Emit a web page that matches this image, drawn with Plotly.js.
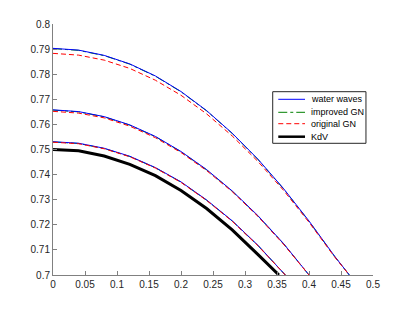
<!DOCTYPE html>
<html><head><meta charset="utf-8">
<script src="https://cdn.plot.ly/plotly-3.0.1.min.js"></script>
<style>html,body{margin:0;padding:0;background:#fff;}#chart{width:412px;height:309px;}</style>
</head><body><div id="chart"></div>
<script>
// Family 1 (top)
const x1 = [0, 0.04, 0.08, 0.12, 0.16, 0.2, 0.24, 0.28, 0.32, 0.36, 0.40, 0.44, 0.463];
const ww1 = [0.7903, 0.7896, 0.7875, 0.7841, 0.7793, 0.7731, 0.7655, 0.7565, 0.7462, 0.7345, 0.7215, 0.7075, 0.7000];
const ign1 = [0.7902, 0.7895, 0.7874, 0.7840, 0.7792, 0.7730, 0.7654, 0.7564, 0.7461, 0.7344, 0.7214, 0.7074, 0.7000];
const ogn1 = [0.7883, 0.7876, 0.7856, 0.7823, 0.7776, 0.7716, 0.7642, 0.7554, 0.7453, 0.7338, 0.7210, 0.7072, 0.7000];
// Family 2 (middle)
const x2 = [0, 0.04, 0.08, 0.12, 0.16, 0.2, 0.24, 0.28, 0.32, 0.36, 0.40];
const ww2 = [0.7658, 0.7651, 0.7631, 0.7598, 0.7552, 0.7492, 0.7420, 0.7335, 0.7237, 0.7126, 0.7000];
const ign2 = [0.7657, 0.7650, 0.7630, 0.7597, 0.7551, 0.7491, 0.7419, 0.7334, 0.7236, 0.7125, 0.7000];
const ogn2 = [0.7652, 0.7645, 0.7626, 0.7593, 0.7547, 0.7488, 0.7416, 0.7332, 0.7234, 0.7123, 0.7000];
// Family 3 (lower)
const x3 = [0, 0.04, 0.08, 0.12, 0.16, 0.2, 0.24, 0.28, 0.32, 0.363];
const ww3 = [0.7531, 0.7525, 0.7505, 0.7473, 0.7428, 0.7371, 0.7299, 0.7216, 0.7119, 0.7000];
const ign3 = [0.7530, 0.7524, 0.7504, 0.7472, 0.7427, 0.7370, 0.7298, 0.7215, 0.7118, 0.7000];
const ogn3 = [0.7529, 0.7523, 0.7503, 0.7471, 0.7426, 0.7369, 0.7297, 0.7214, 0.7117, 0.7000];
// KdV
const xk = [0, 0.04, 0.08, 0.12, 0.16, 0.2, 0.24, 0.28, 0.32, 0.353];
const kdv = [0.7500, 0.7495, 0.7474, 0.7441, 0.7396, 0.7337, 0.7265, 0.7180, 0.7082, 0.7000];

const xTicks = [0, 0.05, 0.1, 0.15, 0.2, 0.25, 0.3, 0.35, 0.4, 0.45, 0.5];
const yTicks = [0.7, 0.71, 0.72, 0.73, 0.74, 0.75, 0.76, 0.77, 0.78, 0.79, 0.8];

const names = ['water waves', 'improved GN', 'original GN', 'KdV'];
const styleList = [
  {color: '#0000ff', width: 1, dash: 'solid'},
  {color: '#008000', width: 1, dash: 'dashdot'},
  {color: '#ff0000', width: 1, dash: '5px,3px'},
  {color: '#000000', width: 3, dash: 'solid'}
];
const traces = [];
function add(x, y, si) {
  traces.push({x: x, y: y, type: 'scatter', mode: 'lines', line: Object.assign({}, styleList[si]),
    name: names[si], showlegend: false, hoverinfo: 'skip'});
}
add(x1, ign1, 1); add(x2, ign2, 1); add(x3, ign3, 1);
add(x1, ww1, 0); add(x2, ww2, 0); add(x3, ww3, 0);
add(x1, ogn1, 2); add(x2, ogn2, 2); add(x3, ogn3, 2);
add(xk, kdv, 3);

// Custom compact legend (MATLAB-style), positions in paper coords
const shapes = [{type: 'rect', xref: 'paper', yref: 'paper', x0: 0.6866, x1: 0.978, y0: 0.5247, y1: 0.7303,
  line: {color: '#262626', width: 1}, fillcolor: '#ffffff', layer: 'above'}];
const annotations = [];
const rowY = [0.700, 0.6482, 0.6028, 0.551];
names.forEach(function (n, i) {
  const st = styleList[i];
  shapes.push({type: 'line', xref: 'paper', yref: 'paper', x0: 0.704, x1: 0.7875, y0: rowY[i], y1: rowY[i],
    line: {color: st.color, width: i === 3 ? 2.5 : 1, dash: st.dash}, layer: 'above'});
  annotations.push({xref: 'paper', yref: 'paper', x: 0.8, y: rowY[i], xanchor: 'left', yanchor: 'middle',
    text: n, showarrow: false, font: {family: 'Liberation Sans, Arial, sans-serif', size: 9, color: '#000'}});
});

const axisCommon = {
  showline: true, linecolor: '#808080', linewidth: 1, ticks: 'inside', ticklen: 4,
  tickcolor: '#808080', showgrid: false, zeroline: false, mirror: false,
  tickfont: {family: 'Liberation Sans, Arial, sans-serif', size: 10, color: '#262626'}
};
const layout = {
  width: 412, height: 309,
  margin: {l: 53, r: 39, t: 24, b: 34, pad: 0},
  paper_bgcolor: '#ffffff', plot_bgcolor: '#ffffff',
  showlegend: false,
  xaxis: Object.assign({}, axisCommon, {range: [0, 0.5], tickvals: xTicks, ticktext: xTicks.map(String)}),
  yaxis: Object.assign({}, axisCommon, {range: [0.7, 0.8], tickvals: yTicks, ticktext: yTicks.map(String)}),
  shapes: shapes,
  annotations: annotations
};
Plotly.newPlot('chart', traces, layout, {staticPlot: true, displayModeBar: false});
</script>
</body></html>
